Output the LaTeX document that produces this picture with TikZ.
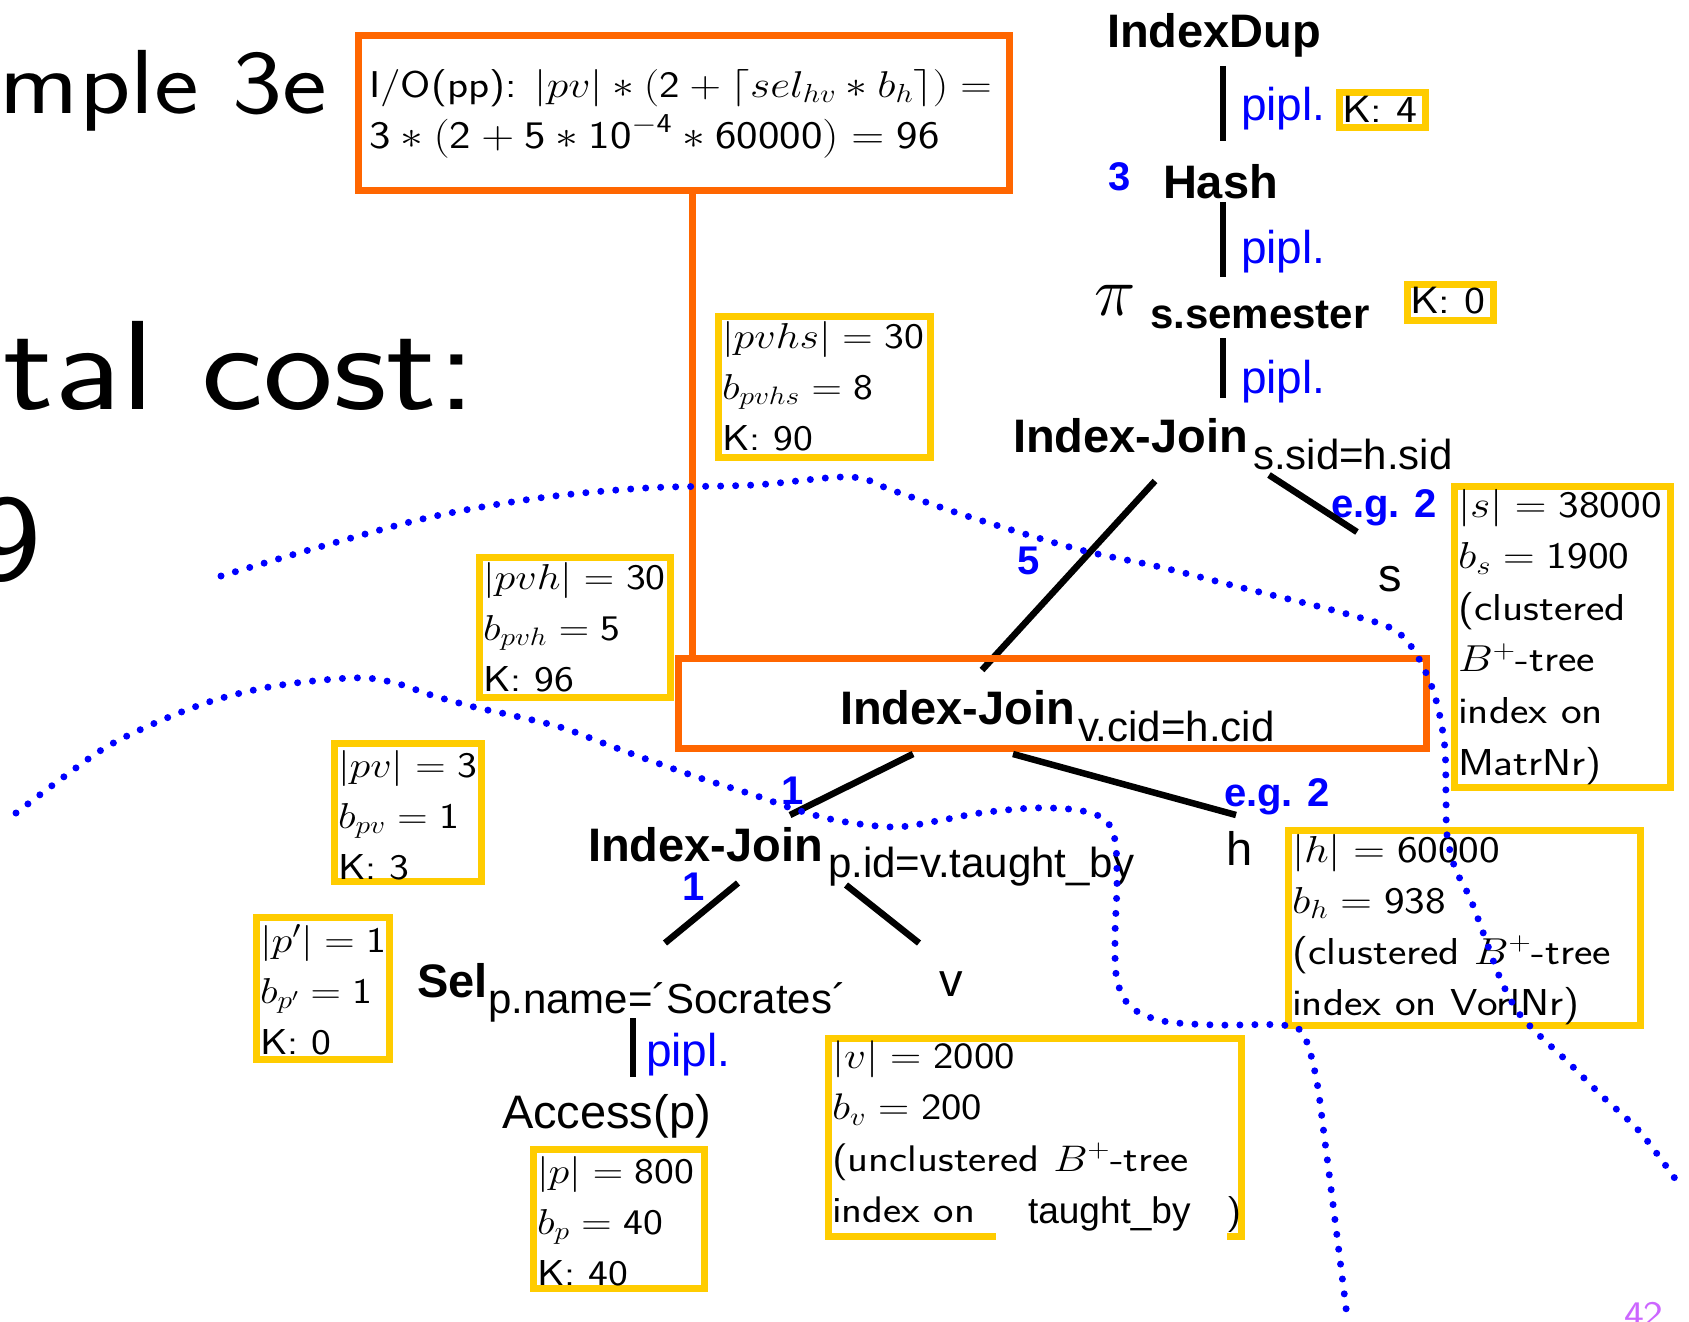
\RequirePackage{fix-cm}
\documentclass[tikz,border=0pt]{standalone}
\usepackage{fontspec}
\usepackage{graphicx}
\newfontfamily\arialf{Liberation Sans}

\definecolor{boxyellow}{HTML}{FFCC00}
\definecolor{boxorange}{HTML}{FF6600}
\definecolor{planblue}{HTML}{0000FF}
\definecolor{pagenum}{HTML}{CC66FF}

% fonts of the plan and of the statistics boxes
\newcommand\opfont{\arialf\bfseries\fontsize{47}{56}\selectfont}
\newcommand\subfont{\arialf\fontsize{42}{50}\selectfont}
\newcommand\leaffont{\arialf\fontsize{47}{56}\selectfont}
\newcommand\pipfont{\arialf\fontsize{46}{55}\selectfont}
\newcommand\numfont{\arialf\bfseries\fontsize{40}{48}\selectfont}
\newcommand\infofont{\sffamily\fontsize{36}{51}\selectfont}
\newcommand\stretched[1]{\scalebox{1.17}[1]{#1}}
\newcommand\infolines[1]{\stretched{\begin{tabular}[t]{@{}l@{}}#1\end{tabular}}}

\tikzset{
  txt/.style={anchor=base west, inner sep=0pt, outer sep=0pt},
  op/.style={txt, font=\opfont},
  subs/.style={txt, font=\subfont},
  leaf/.style={txt, font=\leaffont},
  pipl/.style={txt, font=\pipfont, text=planblue},
  cnt/.style={txt, font=\numfont, text=planblue},
  info/.style={txt, font=\infofont},
  ybox/.style={draw=boxyellow, line width=7pt, inner sep=0pt, outer sep=0pt, anchor=north west},
  obox/.style={draw=boxorange, line width=7pt, inner sep=0pt, outer sep=0pt, anchor=north west},
  edge/.style={line width=6.5pt},
  oline/.style={draw=boxorange, line width=7pt},
  dots/.style={draw=planblue, line width=7pt, line cap=round, dash pattern=on 0pt off 15pt},
}

% framed node given by its outer edges: [style]{name}{left}{top}{right}{bottom}
\newcommand\yellowbox[6][ybox]{%
  \node[#1, minimum width={#5-#3-7}, minimum height={#6-#4-7}] (#2) at ({#3+3.5},{#4+3.5}) {};}

\begin{document}
\begin{tikzpicture}[x=1pt,y=-1pt]
\useasboundingbox (0,0) rectangle (1689,1322);
\fill[white] (0,0) rectangle (1689,1322);

% slide text on the left
\node[anchor=base east, inner sep=0pt, font=\sffamily\fontsize{91}{110}\selectfont] (title) at (327,113) {\stretched{mple 3e}};
\node[anchor=base east, inner sep=0pt, font=\sffamily\fontsize{127}{150}\selectfont] (total) at (476,409) {\stretched{tal cost:}};
\node[anchor=base east, inner sep=0pt, font=\sffamily\fontsize{124}{140}\selectfont] (sum) at (42,580) {\stretched{9}};

% cost formula
\yellowbox[obox]{iobox}{355}{32}{1013}{194}
\node[info, font=\sffamily\fontsize{37.3}{51}\selectfont] (io1) at (369,97) {\stretched{I/O(pp): $|pv| * (\mathsf{2} + \lceil sel_{hv} * b_h\rceil) =$}};
\node[info, font=\sffamily\fontsize{39}{51}\selectfont] (io2) at (369,148) {\stretched{$\mathsf{3} * (\mathsf{2} + \mathsf{5} * \mathsf{10}^{-\mathsf{4}} * \mathsf{60000}) = \mathsf{96}$}};

% upper part of the plan
\node[op] (dup) at (1107,48) {IndexDup};
\node[pipl] (pp1) at (1241,120) {pipl.};
\yellowbox{kfour}{1336}{89}{1429}{131}
\node[info, font=\sffamily\fontsize{38}{51}\selectfont] (kfourt) at (1342,122) {\stretched{K: 4}};
\node[cnt] (c3) at (1108,190) {3};
\node[op] (hash) at (1163,198) {Hash};
\node[pipl] (pp2) at (1241,263) {pipl.};
\node[txt, font=\fontsize{70}{80}\selectfont] (proj) at (1094,315) {$\pi$};
\node[txt, font=\arialf\bfseries\fontsize{42}{50}\selectfont] (projsub) at (1150,328) {s.semester};
\yellowbox{kzero}{1404}{281}{1497}{324}
\node[info, font=\sffamily\fontsize{38}{51}\selectfont] (kzerot) at (1410,313) {\stretched{K: 0}};
\node[pipl] (pp3) at (1241,393) {pipl.};
\node[op] (ijs) at (1013,452) {Index-Join};
\node[subs] (ijssub) at (1253,469) {s.sid=h.sid};
\node[cnt] (c5) at (1017,574) {5};
\node[cnt] (eg1) at (1331,517) {e.g. 2};
\node[leaf] (s) at (1378,591) {s};

\coordinate (b1a) at (1223,66);  \coordinate (b1b) at (1223,141);
\coordinate (b2a) at (1223,202); \coordinate (b2b) at (1223,277);
\coordinate (b3a) at (1223,338); \coordinate (b3b) at (1223,398);
\draw[edge] (b1a) -- (b1b);
\draw[edge] (b2a) -- (b2b);
\draw[edge] (b3a) -- (b3b);
\coordinate (sl1) at (1155,481); \coordinate (sl2) at (982,670);
\coordinate (sr1) at (1269,475); \coordinate (sr2) at (1357,532);
\draw[edge] (sl1) -- (sl2);
\draw[edge] (sr1) -- (sr2);

% middle join with its cost box
\yellowbox[obox]{ijbox}{675}{655}{1430}{752}
\coordinate (ocol) at (692,0);
\draw[oline] (iobox.south -| ocol) -- (ijbox.north -| ocol);
\node[op] (ijv) at (840,724) {Index-Join};
\node[subs] (ijvsub) at (1078,741) {v.cid=h.cid};
\coordinate (vl1) at (913,754);  \coordinate (vl2) at (790,815);
\coordinate (vr1) at (1013,754); \coordinate (vr2) at (1236,815);
\draw[edge] (vl1) -- (vl2);
\draw[edge] (vr1) -- (vr2);
\node[cnt] (c1a) at (781,804) {1};
\node[cnt] (eg2) at (1224,806) {e.g. 2};
\node[leaf] (h) at (1226,865) {h};

% lower part of the plan
\node[op] (ijp) at (588,861) {Index-Join};
\node[subs] (ijpsub) at (828,877) {p.id=v.taught\_by};
\node[cnt] (c1b) at (682,900) {1};
\coordinate (pl1) at (738,883); \coordinate (pl2) at (665,943);
\coordinate (pr1) at (846,885); \coordinate (pr2) at (919,943);
\draw[edge] (pl1) -- (pl2);
\draw[edge] (pr1) -- (pr2);
\node[op] (sel) at (417,997) {Sel};
\node[subs] (selsub) at (488,1013) {p.name=´Socrates´};
\node[leaf] (v) at (939,996) {v};
\coordinate (b4a) at (633,1018); \coordinate (b4b) at (633,1077);
\draw[edge] (b4a) -- (b4b);
\node[pipl] (pp4) at (646,1066) {pipl.};
\node[leaf] (acc) at (502,1128) {Access(p)};

% statistics boxes
\yellowbox{bpvhs}{715}{313}{934}{461}
\node[info] (tpvhs) at (722,348) {\infolines{$|pvhs| = {}$30\\ $b_{pvhs} = {}$8\\ K: 90}};
\yellowbox{bpvh}{476}{554}{674}{701}
\node[info] (tpvh) at (483,589) {\infolines{$|pvh| = {}$30\\ $b_{pvh} = {}$5\\ K: 96}};
\yellowbox{bpv}{331}{740}{485}{885}
\node[info] (tpv) at (338,777) {\infolines{$|pv| = {}$3\\ $b_{pv} = {}$1\\ K: 3}};
\yellowbox{bpp}{253}{914}{393}{1063}
\node[info] (tpp) at (260,952) {\infolines{$|p'| = {}$1\\ $b_{p'} = {}$1\\ K: 0}};
\yellowbox{bp}{530}{1146}{708}{1292}
\node[info] (tp) at (537,1183) {\infolines{$|p| = {}$800\\ $b_p = {}$40\\ K: 40}};
\yellowbox{bv}{825}{1035}{1245}{1240}
\node[info, font=\sffamily\fontsize{37}{51.5}\selectfont] (tv) at (832,1068) {\infolines{$|v| = {}$2000\\ $b_v = {}$200\\ (unclustered $B^+$-tree\\ index on}};
\node[fill=white, inner sep=0pt, outer sep=0pt, minimum width=231, minimum height=52, anchor=south west] (tbmask) at (996,1243) {};
\node[txt, font=\arialf\fontsize{37}{44}\selectfont] (tb) at (1028,1223) {taught\_by};
\node[info] (tbclose) at (1226,1223) {\stretched{)}};
\yellowbox{bh}{1285}{827}{1644}{1029}
\node[info, font=\sffamily\fontsize{37.5}{51}\selectfont] (th) at (1292,862) {\infolines{$|h| = {}$60000\\ $b_h = {}$938\\ (clustered $B^+$-tree\\ index on VorlNr)}};
\yellowbox{bs}{1451}{483}{1674}{791}
\node[info, font=\sffamily\fontsize{37.5}{51.6}\selectfont] (ts) at (1458,517) {\infolines{$|s| = {}$38000\\ $b_s = {}$1900\\ (clustered\\ $B^+$-tree\\ index on\\ MatrNr)}};

% dotted cut lines
\draw[dots] plot[smooth, tension=0.55] coordinates {
  (221,576) (323,546) (431,517) (539,498) (646,488) (754,485) (850,477)
  (894,491) (970,517) (1077,549) (1160,567) (1239,587) (1347,614) (1400,634)
  (1430,682) (1444,740) (1446,800) (1447,835) (1455,868) (1470,898)
  (1484,935) (1500,978) (1518,1012) (1540,1036) (1568,1062) (1602,1096)
  (1640,1132) (1676,1180)};
\draw[dots] plot[smooth, tension=0.55] coordinates {
  (16,813) (65,776) (108,746) (162,720) (215,700) (269,687) (323,680)
  (366,678) (399,684) (431,695) (474,707) (506,714) (560,727) (603,743)
  (646,759) (700,778) (754,795) (797,810) (840,821) (894,827) (937,821)
  (980,813) (1034,808) (1077,810) (1104,819) (1115,840) (1117,883)
  (1115,937) (1117,980) (1131,1007) (1163,1021) (1217,1025) (1282,1025)
  (1303,1034) (1316,1077) (1325,1142) (1336,1228) (1347,1316)};

% page number
\node[txt, font=\sffamily\fontsize{36}{40}\selectfont, text=pagenum] (pg) at (1624,1326) {\stretched{42}};
\end{tikzpicture}
\end{document}
